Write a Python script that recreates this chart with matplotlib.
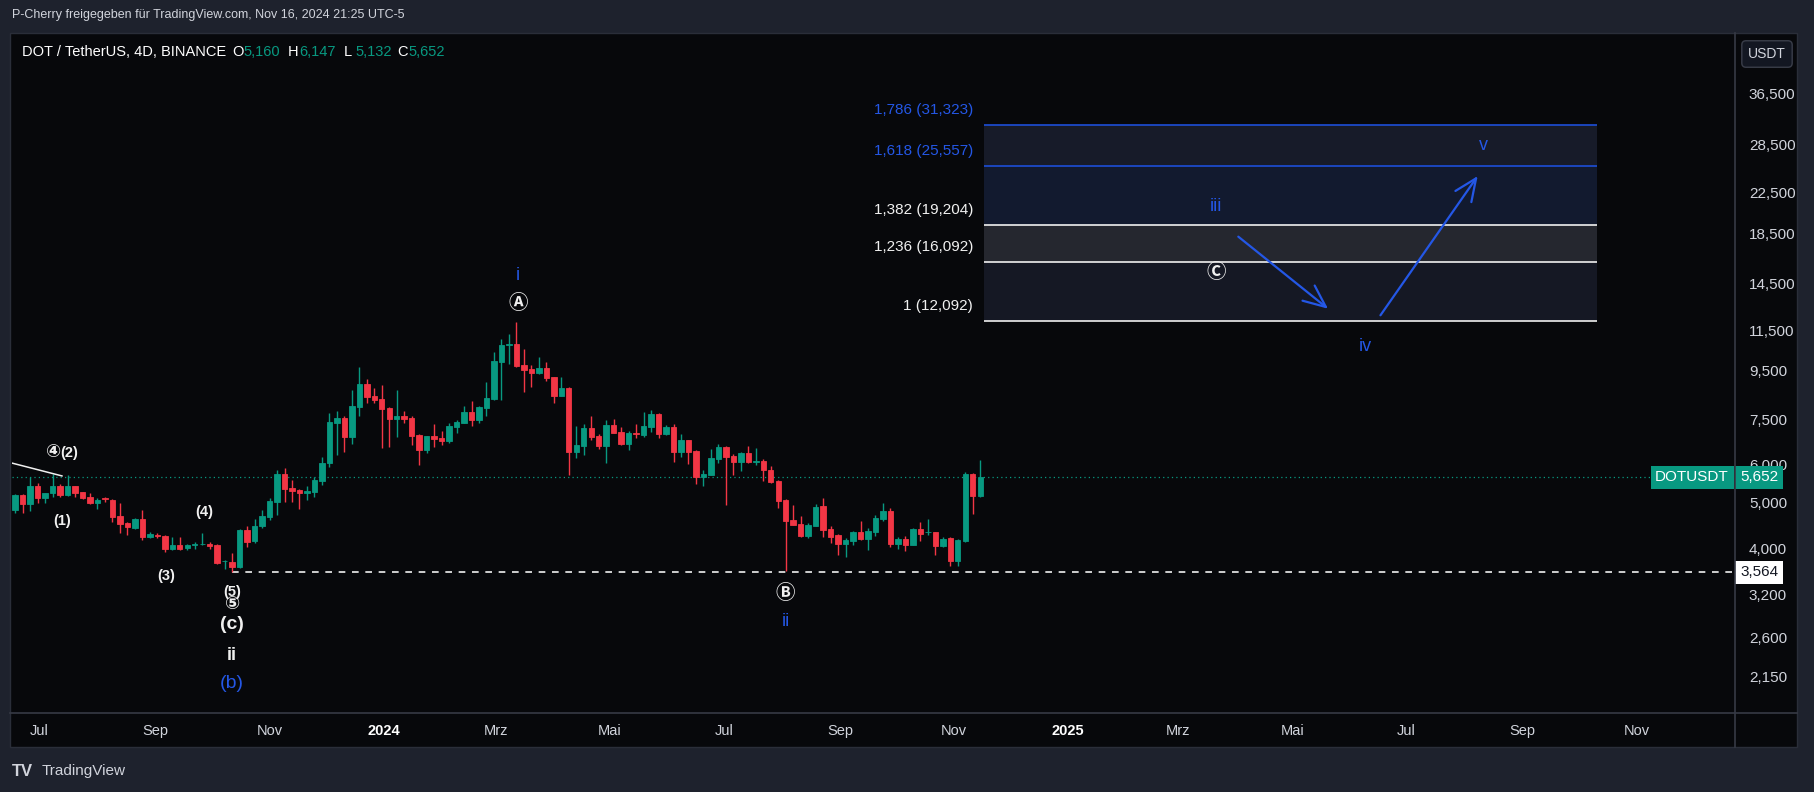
import matplotlib
matplotlib.use("Agg")
import matplotlib.pyplot as plt
import matplotlib.dates as mdates
from matplotlib import font_manager
from matplotlib.lines import Line2D
from matplotlib.patches import Rectangle
from matplotlib.ticker import FixedLocator, FuncFormatter, NullLocator
import numpy as np
import pandas as pd

# DOT/USDT 4D candles (Binance)
candle_start = "2023-06-18"
opens = [4.82, 5.19, 4.96, 5.43, 5.11, 5.23, 5.43, 5.18, 5.42, 5.26,
         5.13, 5.00, 5.10, 5.06, 4.69, 4.53, 4.42, 4.62, 4.23, 4.28,
         4.26, 3.99, 4.07, 4.01, 4.07, 4.08, 4.09, 4.06, 3.76, 3.75,
         3.65, 4.38, 4.14, 4.46, 4.67, 5.02, 5.74, 5.37, 5.31, 5.24,
         5.27, 5.56, 6.05, 7.37, 7.53, 6.88, 7.96, 8.88, 8.38, 8.25,
         7.91, 7.51, 7.60, 7.53, 6.93, 6.45, 6.90, 6.85, 6.74, 7.22,
         7.37, 7.76, 7.46, 7.91, 8.27, 9.90, 10.74, 10.80, 9.75, 9.58,
         9.37, 9.61, 9.21, 8.40, 8.72, 6.39, 6.58, 7.18, 6.91, 6.58,
         7.29, 7.04, 6.65, 7.00, 6.93, 7.23, 7.69, 6.98, 7.23, 6.39,
         6.78, 6.43, 5.65, 5.72, 6.19, 6.56, 6.27, 6.09, 6.37, 6.09,
         6.12, 5.87, 5.55, 5.07, 4.59, 4.50, 4.26, 4.46, 4.92, 4.39,
         4.28, 4.09, 4.15, 4.33, 4.18, 4.34, 4.62, 4.80, 4.09, 4.18,
         4.07, 4.40, 4.33, 4.34, 4.04, 4.21, 3.77, 4.14, 5.74, 5.160]
highs = [5.22, 5.22, 5.65, 5.50, 5.24, 5.74, 5.47, 5.72, 5.43, 5.27,
         5.23, 5.11, 5.13, 5.08, 4.98, 4.56, 4.65, 4.82, 4.34, 4.32,
         4.27, 4.24, 4.23, 4.09, 4.12, 4.31, 4.12, 4.08, 3.78, 3.91,
         4.39, 4.46, 4.61, 4.82, 5.10, 5.87, 5.91, 5.58, 5.33, 5.43,
         5.67, 6.25, 7.71, 7.78, 7.60, 8.63, 9.65, 9.09, 8.70, 8.84,
         7.96, 8.63, 7.78, 7.60, 6.99, 6.90, 7.32, 7.07, 7.34, 7.48,
         7.98, 8.20, 7.98, 8.97, 10.38, 11.05, 11.33, 12.01, 10.52, 9.75,
         10.15, 9.88, 9.21, 9.21, 8.75, 7.25, 7.32, 7.61, 6.98, 7.47,
         7.51, 7.23, 7.06, 7.32, 7.76, 7.84, 7.71, 7.27, 7.32, 6.96,
         6.78, 6.45, 5.86, 6.47, 6.65, 6.58, 6.33, 6.40, 6.58, 6.51,
         6.17, 5.97, 5.58, 5.08, 4.93, 4.68, 4.52, 4.96, 5.11, 4.46,
         4.29, 4.20, 4.36, 4.58, 4.41, 4.71, 4.99, 4.87, 4.24, 4.26,
         4.42, 4.56, 4.62, 4.34, 4.24, 4.23, 4.19, 5.80, 5.78, 6.147]
lows = [4.76, 4.76, 4.80, 4.99, 4.99, 5.13, 5.13, 5.16, 5.13, 5.08,
        4.96, 4.85, 5.01, 4.56, 4.32, 4.27, 4.40, 4.16, 4.21, 4.20,
        3.93, 3.98, 3.98, 3.97, 3.99, 4.07, 3.99, 3.71, 3.63, 3.564,
        3.64, 4.02, 4.10, 4.42, 4.60, 4.70, 5.02, 5.02, 4.84, 5.06,
        5.14, 5.44, 5.93, 6.31, 6.40, 6.64, 7.60, 8.12, 8.09, 6.52,
        6.56, 6.86, 7.36, 6.61, 6.00, 6.37, 6.54, 6.61, 6.69, 7.02,
        7.34, 7.24, 7.34, 7.60, 8.22, 8.22, 9.82, 9.64, 8.56, 8.77,
        9.33, 9.00, 8.12, 8.40, 5.72, 6.21, 6.29, 6.78, 6.49, 6.07,
        7.00, 6.62, 6.45, 6.84, 6.89, 7.05, 6.84, 6.95, 6.09, 6.25,
        6.03, 5.47, 5.42, 5.72, 6.05, 4.94, 5.72, 5.84, 6.05, 6.01,
        5.56, 5.51, 4.88, 3.58, 4.48, 4.23, 4.21, 4.46, 4.24, 4.11,
        3.88, 3.83, 4.07, 4.16, 3.98, 4.25, 4.58, 4.02, 4.00, 3.96,
        4.06, 4.15, 4.28, 3.87, 4.02, 3.68, 3.68, 4.13, 4.72, 5.132]
closes = [5.19, 4.96, 5.43, 5.11, 5.23, 5.43, 5.18, 5.42, 5.24, 5.10,
          5.00, 5.06, 5.08, 4.67, 4.51, 4.44, 4.62, 4.23, 4.30, 4.26,
          3.99, 4.07, 3.99, 4.07, 4.09, 4.09, 4.04, 3.73, 3.77, 3.65,
          4.38, 4.13, 4.46, 4.68, 5.04, 5.74, 5.34, 5.30, 5.24, 5.28,
          5.58, 6.05, 7.39, 7.53, 6.88, 7.98, 8.88, 8.36, 8.22, 7.88,
          7.51, 7.60, 7.51, 6.90, 6.45, 6.90, 6.80, 6.74, 7.24, 7.39,
          7.76, 7.46, 7.96, 8.31, 9.95, 10.74, 10.78, 9.72, 9.51, 9.39,
          9.61, 9.15, 8.40, 8.72, 6.39, 6.60, 7.18, 6.89, 6.58, 7.29,
          7.02, 6.65, 7.00, 6.98, 7.25, 7.69, 6.98, 7.23, 6.39, 6.78,
          6.39, 5.65, 5.74, 6.21, 6.56, 6.25, 6.09, 6.37, 6.09, 6.12,
          5.85, 5.53, 5.05, 4.58, 4.49, 4.26, 4.48, 4.90, 4.38, 4.24,
          4.09, 4.16, 4.33, 4.18, 4.36, 4.65, 4.80, 4.09, 4.19, 4.07,
          4.40, 4.29, 4.34, 4.04, 4.18, 3.77, 4.16, 5.74, 5.16, 5.652]

# fibonacci extension drawn on the chart
fib_ratios = [1, 1.236, 1.382, 1.618, 1.786]
fib_prices = [12.092, 16.092, 19.204, 25.557, 31.323]
fib_from, fib_to = "2024-11-17", "2025-10-11"

# axis ticks
price_ticks = [2.15, 2.6, 3.2, 4.0, 5.0, 6.0, 7.5, 9.5, 11.5, 14.5, 18.5, 22.5, 28.5, 36.5]
month_ticks = ["2023-07-01", "2023-09-01", "2023-11-01", "2024-01-01", "2024-03-01",
               "2024-05-01", "2024-07-01", "2024-09-01", "2024-11-01", "2025-01-01",
               "2025-03-01", "2025-05-01", "2025-07-01", "2025-09-01", "2025-11-01"]
month_labels = ["Jul", "Sep", "Nov", "2024", "Mrz", "Mai", "Jul", "Sep", "Nov",
                "2025", "Mrz", "Mai", "Jul", "Sep", "Nov"]

# small trend line at the far left
trend_dates = ["2023-06-16", "2023-07-13"]
trend_prices = [6.06, 5.69]

# wave arrows for the projection
arrow_down = [("2025-04-02", 18.18), ("2025-05-20", 12.81)]
arrow_up = [("2025-06-17", 12.41), ("2025-08-08", 24.40)]

GREEN = "#089981"
RED = "#f23645"
BLUE = "#2457e6"
WHITE = "#f0f0f0"
TXT = "#d1d4dc"
BG_OUT = "#1e222d"
BG = "#07080b"
GRID = "#2a2e39"

# elliott wave labels: text, date, price, colour, size, weight
wave_labels = [
    ("④", "2023-07-08 18:00", 6.36, WHITE, 13, "bold"),
    ("(2)", "2023-07-16 22:00", 6.36, WHITE, 10.5, "bold"),
    ("(1)", "2023-07-13", 4.57, WHITE, 10.5, "bold"),
    ("(3)", "2023-09-07", 3.50, WHITE, 10.5, "bold"),
    ("(4)", "2023-09-27", 4.78, WHITE, 10.5, "bold"),
    ("⑤", "2023-10-12", 3.055, WHITE, 13, "bold"),
    ("(5)", "2023-10-12", 3.24, WHITE, 10.5, "bold"),
    ("(c)", "2023-10-12", 2.76, WHITE, 14, "bold"),
    ("ii", "2023-10-12", 2.385, WHITE, 13, "bold"),
    ("(b)", "2023-10-12", 2.08, BLUE, 14, "normal"),
    ("i", "2024-03-13", 15.09, BLUE, 13, "normal"),
    ("Ⓐ", "2024-03-13", 13.15, WHITE, 14, "bold"),
    ("Ⓑ", "2024-08-03", 3.215, WHITE, 14, "bold"),
    ("ii", "2024-08-03", 2.813, BLUE, 13, "normal"),
    ("iii", "2025-03-21", 21.02, BLUE, 13, "normal"),
    ("Ⓒ", "2025-03-21", 15.24, WHITE, 14, "bold"),
    ("iv", "2025-06-09", 10.65, BLUE, 13, "normal"),
    ("v", "2025-08-11", 28.26, BLUE, 13, "normal"),
]

names = {f.name for f in font_manager.fontManager.ttflist}
base_font = "Liberation Sans" if "Liberation Sans" in names else "DejaVu Sans"
plt.rcParams["font.family"] = [base_font, "DejaVu Sans", "Noto Sans CJK SC"]


def de(v, nd=3):
    # german decimal comma
    return f"{v:.{nd}f}".replace(".", ",")


W, H = 1814, 792
fig = plt.figure(figsize=(W / 100, H / 100), dpi=100, facecolor=BG_OUT)


def fx(px):
    return px / W


def fy(py):
    return 1 - py / H


# chart panel
fig.add_artist(Rectangle((fx(10), fy(747)), fx(1797) - fx(10), fy(33) - fy(747),
                         transform=fig.transFigure, facecolor=BG, edgecolor=GRID, lw=1, zorder=0))
fig.add_artist(Line2D([fx(10), fx(1797)], [fy(713), fy(713)], transform=fig.transFigure, color="#363a45", lw=1.2))
fig.add_artist(Line2D([fx(1735), fx(1735)], [fy(33), fy(747)], transform=fig.transFigure, color="#363a45", lw=1.2))

ax = fig.add_axes([fx(12), fy(713), fx(1735) - fx(12), fy(33) - fy(713)])
ax.set_facecolor("none")
for s in ax.spines.values():
    s.set_visible(False)

dates = pd.date_range(candle_start, periods=len(opens), freq="4D")
x = mdates.date2num(dates)
o, h, l, c = (np.array(a) for a in (opens, highs, lows, closes))
cols = np.where(c >= o, GREEN, RED)
ax.vlines(x, l, h, colors=cols, lw=1.0, zorder=3)
ax.bar(x, np.abs(c - o), bottom=np.minimum(o, c), width=2.9, color=cols,
       edgecolor=cols, lw=0.6, zorder=4)

# last price dotted line and the support line from the lowest low
last = closes[-1]
ax.axhline(last, color=GREEN, lw=0.9, ls=(0, (1, 2.5)), zorder=2)
imin = int(np.argmin(l))
ax.hlines(l[imin], x[imin], mdates.date2num(pd.Timestamp("2026-06-01")), color=WHITE,
          lw=1.2, ls=(0, (4, 4)), zorder=2)

ax.plot(mdates.date2num(pd.to_datetime(trend_dates)), trend_prices, color=WHITE, lw=1.1, zorder=5)

# fib bands
band_cols = ["#151824", "#25272f", "#121a2f", "#171b29"]
line_cols = [WHITE, WHITE, WHITE, "#1d4ed8", "#1d4ed8"]
fx0, fx1 = mdates.date2num(pd.Timestamp(fib_from)), mdates.date2num(pd.Timestamp(fib_to))
for i in range(len(fib_prices) - 1):
    ax.fill_between([fx0, fx1], fib_prices[i], fib_prices[i + 1], color=band_cols[i], lw=0, zorder=1)
for r, p, lc in zip(fib_ratios, fib_prices, line_cols):
    ax.hlines(p, fx0, fx1, color=lc, lw=1.2, zorder=2)
    lab = f"{r:g}".replace(".", ",") + f" ({de(p)})"
    ax.annotate(lab, xy=(fx0, p), xytext=(-11, 15), textcoords="offset pixels",
                ha="right", va="center", fontsize=11,
                color=(WHITE if lc == WHITE else BLUE))

for pts in (arrow_down, arrow_up):
    (d0, p0), (d1, p1) = pts
    ax.annotate("", xy=(mdates.date2num(pd.Timestamp(d1)), p1),
                xytext=(mdates.date2num(pd.Timestamp(d0)), p0),
                arrowprops=dict(arrowstyle="->,head_length=0.8,head_width=0.35",
                                color=BLUE, lw=1.6, shrinkA=0, shrinkB=0, mutation_scale=20),
                zorder=6)

for txt, d, p, col, fs, fw in wave_labels:
    ax.text(mdates.date2num(pd.Timestamp(d)), p, txt, ha="center", va="center",
            color=col, fontsize=fs, fontweight=fw, zorder=7)

# axes
ax.set_yscale("log")
ax.set_ylim(1.80, 48.86)
ax.set_xlim(mdates.date2num(pd.Timestamp("2023-06-16 07:00")),
            mdates.date2num(pd.Timestamp("2025-12-23 14:00")))
ax.yaxis.tick_right()
ax.yaxis.set_major_locator(FixedLocator(price_ticks))
ax.yaxis.set_minor_locator(NullLocator())
ax.yaxis.set_major_formatter(FuncFormatter(lambda v, pos: de(v)))
ax.tick_params(axis="y", length=0, pad=10, labelsize=11, labelcolor=TXT)
ax.set_xticks(mdates.date2num(pd.to_datetime(month_ticks)))
ax.set_xticklabels(month_labels)
ax.tick_params(axis="x", length=0, pad=8, labelsize=10.5, labelcolor=TXT)
for t in ax.get_xticklabels():
    if t.get_text().isdigit():
        t.set_fontweight("bold")
        t.set_color("#ffffff")

# price tags on the scale
ax.annotate(de(last), xy=(1, last), xycoords=ax.get_yaxis_transform(), xytext=(5, 0),
            textcoords="offset pixels", ha="left", va="center", fontsize=11, color="white",
            bbox=dict(boxstyle="square,pad=0.3", fc=GREEN, ec="none"), zorder=10)
ax.annotate("DOTUSDT", xy=(1, last), xycoords=ax.get_yaxis_transform(), xytext=(-6, 0),
            textcoords="offset pixels", ha="right", va="center", fontsize=11, color="white",
            bbox=dict(boxstyle="square,pad=0.3", fc=GREEN, ec="none"), zorder=10)
ax.annotate(de(l[imin]), xy=(1, l[imin]), xycoords=ax.get_yaxis_transform(), xytext=(5, 0),
            textcoords="offset pixels", ha="left", va="center", fontsize=11, color="#131722",
            bbox=dict(boxstyle="square,pad=0.3", fc="white", ec="none"), zorder=10)

fig.text(fx(1767), fy(54), "USDT", ha="center", va="center", fontsize=10, color=TXT,
         bbox=dict(boxstyle="round,pad=0.45,rounding_size=0.3", fc="#131722", ec="#3a3e4a"))

# header
fig.text(fx(12), fy(15), "P-Cherry freigegeben für TradingView.com, Nov 16, 2024 21:25 UTC-5",
         ha="left", va="center", fontsize=9, color=TXT)
fig.text(fx(22), fy(52), "DOT / TetherUS, 4D, BINANCE", ha="left", va="center", fontsize=10.5, color="white")
for lbl, val, px in (("O", opens[-1], 232), ("H", highs[-1], 288), ("L", lows[-1], 344), ("C", closes[-1], 397)):
    fig.text(fx(px), fy(52), lbl, ha="left", va="center", fontsize=10.5, color="white")
    fig.text(fx(px + 11), fy(52), de(val), ha="left", va="center", fontsize=10.5, color=GREEN)

# footer
fig.text(fx(12), fy(771), "TV", ha="left", va="center", fontsize=12, fontweight="bold", color=TXT)
fig.text(fx(42), fy(771), "TradingView", ha="left", va="center", fontsize=11, color=TXT)

fig.savefig("out.png", dpi=100, facecolor=BG_OUT)
